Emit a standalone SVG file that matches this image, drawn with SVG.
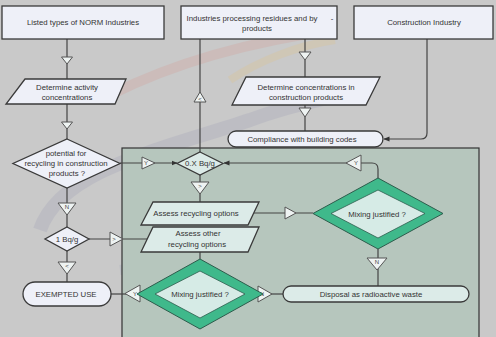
<svg xmlns="http://www.w3.org/2000/svg" width="496" height="337" viewBox="0 0 496 337">
<style>
.t{font-family:"Liberation Sans",Arial,sans-serif;font-size:7.8px;fill:#333;text-anchor:middle;dominant-baseline:central}
.s{font-family:"Liberation Sans",Arial,sans-serif;font-size:6px;fill:#444;text-anchor:middle;dominant-baseline:central}
.box{fill:#eef0f8;stroke:#3a3a3a;stroke-width:1.3}
.gbox{fill:#dcebe8;stroke:#3a3a3a;stroke-width:1.3}
.ln{fill:none;stroke:#444;stroke-width:1.2}
.tri{fill:#eef3f2;stroke:#555;stroke-width:1}
.outer{fill:#3fb98b;stroke:#2d5c4c;stroke-width:1}
.inner{fill:#d6ebe6;stroke:#2d5c4c;stroke-width:0.8}
</style>
<defs>
<marker id="ah" viewBox="0 0 6 6" refX="5.5" refY="3" markerWidth="5" markerHeight="5" orient="auto">
<path d="M0,0.5 L6,3 L0,5.5 z" fill="#333"/>
</marker>
</defs>
<rect x="0" y="0" width="496" height="337" fill="#c9c9c9"/>
<g id="watermark" opacity="0.2">
<path d="M110,95 C180,60 260,40 335,30" fill="none" stroke="#d98a80" stroke-width="10"/>
<path d="M230,80 C260,60 300,45 335,40" fill="none" stroke="#e8c070" stroke-width="8"/>
<path d="M40,230 C60,170 160,150 250,120 C290,105 320,100 340,95" fill="none" stroke="#8f8fb0" stroke-width="14"/>
<path d="M120,270 C200,260 260,250 300,245" fill="none" stroke="#8f99b8" stroke-width="10"/>
</g>
<rect id="region" x="122" y="148" width="357" height="195" fill="#b6c6bd" stroke="#333" stroke-width="1.2"/>
<g id="connectors">
<path class="ln" d="M67,39 V79"/>
<path class="ln" d="M67,104 V139"/>
<path class="ln" d="M120,163 H177" marker-end="url(#ah)"/>
<path class="ln" d="M67,188 V227"/>
<path class="ln" d="M89,239 H147"/>
<path class="ln" d="M67,251 V282"/>
<path class="ln" d="M137,294 H111"/>
<path class="ln" d="M200,152 V39"/>
<path class="ln" d="M305,39 V77"/>
<path class="ln" d="M305,105 V131"/>
<path class="ln" d="M427,39 V133 Q427,139 421,139 H384" marker-end="url(#ah)"/>
<path class="ln" d="M378,178 V169 Q378,163 372,163 H224" marker-end="url(#ah)"/>
<path class="ln" d="M200,175 V202"/>
<path class="ln" d="M254,213 H313"/>
<path class="ln" d="M378,249 V286"/>
<path class="ln" d="M200,252 V259"/>
<path class="ln" d="M263,294 H283"/>
<polygon class="tri" points="61.5,57 72.5,57 67,64"/>
<polygon class="tri" points="61.5,122 72.5,122 67,129"/>
<polygon class="tri" points="142,157 142,169 155,163"/>
<text class="s" x="146" y="163">Y</text>
<polygon class="tri" points="58,203 76,203 67,215"/>
<text class="s" x="67" y="207">N</text>
<polygon class="tri" points="110,232 110,246 123,239"/>
<text class="s" x="114" y="239">&gt;</text>
<polygon class="tri" points="58,262 76,262 67,274"/>
<text class="s" x="67" y="266">&lt;</text>
<polygon class="tri" points="140,285 140,302 125,293.5"/>
<text class="s" x="135" y="293.5">Y</text>
<polygon class="tri" points="194,102 206,102 200,92"/>
<text class="s" x="200" y="98.5">&lt;</text>
<polygon class="tri" points="299,52 311,52 305,60"/>
<polygon class="tri" points="299,108 311,108 305,117"/>
<polygon class="tri" points="191,182 209,182 200,194"/>
<text class="s" x="200" y="186">&gt;</text>
<polygon class="tri" points="285,207 285,219 296,213"/>
<polygon class="tri" points="367,258 387,258 377,270"/>
<text class="s" x="377" y="262">N</text>
<polygon class="tri" points="361,155 361,171 346,163"/>
<text class="s" x="356" y="163">Y</text>
<polygon class="tri" points="258,286 258,302 272,294"/>
<text class="s" x="262" y="294">N</text>
</g>
<g id="listed">
<rect class="box" x="2" y="6" width="162" height="33"/>
<text class="t" x="83" y="22.5">Listed types of NORM Industries</text>
</g>
<g id="industries">
<rect class="box" x="181" y="6" width="156" height="33"/>
<text class="t" x="252" y="18">Industries processing residues and by</text>
<text class="t" x="332" y="18">-</text>
<text class="t" x="257" y="28.5">products</text>
</g>
<g id="construction">
<rect class="box" x="354" y="6" width="139" height="33"/>
<text class="t" x="424" y="22.5">Construction Industry</text>
</g>
<g id="determine-activity">
<polygon class="box" points="25,79 126,79 115,104 6,104"/>
<text class="t" x="67" y="87.5">Determine activity</text>
<text class="t" x="67" y="97.5">concentrations</text>
</g>
<g id="determine-conc">
<polygon class="box" points="246,77 380,77 366,105 232,105"/>
<text class="t" x="306" y="87">Determine concentrations in</text>
<text class="t" x="306" y="97.5">construction products</text>
</g>
<g id="compliance">
<rect class="box" x="228" y="131" width="155" height="16" rx="8"/>
<text class="t" x="302" y="139">Compliance with building codes</text>
</g>
<g id="potential">
<polygon class="box" points="67,139 120,163.5 67,188 13,163.5"/>
<text class="t" x="66" y="153.5">potential for</text>
<text class="t" x="66" y="163.5">recycling in construction</text>
<text class="t" x="67" y="173.5">products  ?</text>
</g>
<g id="oxbq">
<polygon class="gbox" points="200,152 223,163.5 200,175 177,163.5"/>
<text class="t" x="200" y="163.5">0.X Bq/g</text>
</g>
<g id="onebq">
<polygon class="box" points="67,227 89,239 67,251 45,239"/>
<text class="t" x="67" y="239">1 Bq/g</text>
</g>
<g id="exempted">
<rect class="box" x="23" y="282" width="88" height="24" rx="12"/>
<text class="t" x="66" y="294">EXEMPTED USE</text>
</g>
<g id="assess-recycling">
<polygon class="gbox" points="153,202 259,202 248,225 141,225"/>
<text class="t" x="196" y="213.5">Assess recycling options</text>
</g>
<g id="assess-other">
<polygon class="gbox" points="153,227 259,227 248,252 141,252"/>
<text class="t" x="198" y="233.5">Assess other</text>
<text class="t" x="197" y="244.5">recycling options</text>
</g>
<g id="mixing1">
<polygon class="outer" points="378,178 443,213.5 378,249 313,213.5"/>
<polygon class="inner" points="378,190 425,213.5 378,238 331,213.5"/>
<text class="t" x="377" y="214">Mixing justified  ?</text>
</g>
<g id="mixing2">
<polygon class="outer" points="200,259 263,294 200,329 137,294"/>
<polygon class="inner" points="200,271 245,294 200,318 155,294"/>
<text class="t" x="200" y="294">Mixing justified  ?</text>
</g>
<g id="disposal">
<rect class="gbox" x="283" y="286" width="186" height="16" rx="8"/>
<text class="t" x="371" y="294">Disposal as radioactive waste</text>
</g>
</svg>
